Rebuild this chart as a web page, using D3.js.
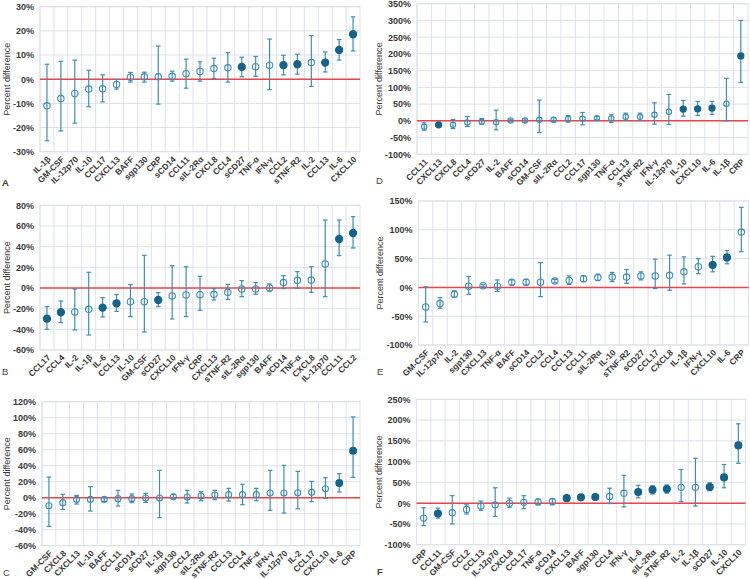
<!DOCTYPE html>
<html>
<head>
<meta charset="utf-8">
<script src="https://cdn.jsdelivr.net/npm/d3@7"></script>
<style>
  body { margin: 0; background: #fff; }
  svg { display: block; }
</style>
</head>
<body>
<svg id="chart" width="750" height="579"></svg>
<script>
// panel A
const catsA = ["IL-1β", "GM-CSF", "IL-12p70", "IL-10", "CCL17", "CXCL13", "BAFF", "sgp130", "CRP", "sCD14", "CCL11", "sIL-2Rα", "CXCL8", "CCL4", "sCD27", "TNF-α", "IFN-γ", "CCL2", "sTNF-R2", "IL-2", "CCL13", "IL-6", "CXCL10"]
const estA = [-11.0, -8.0, -5.9, -4.1, -4.0, -2.2, 0.8, 1.0, 1.0, 1.2, 2.3, 3.2, 4.4, 4.7, 5.1, 5.2, 5.8, 5.8, 6.2, 6.9, 6.9, 12.1, 18.6]
const lowA = [-25.5, -21.4, -18.2, -11.4, -9.4, -4.1, -1.2, -1.2, -10.3, -0.8, -3.7, -0.8, 0.3, -1.2, 1.0, 1.2, -4.3, 1.8, 2.1, -3.0, 3.0, 7.9, 11.7]
const highA = [6.2, 7.4, 7.9, 3.7, 1.8, -0.1, 2.8, 2.9, 13.7, 3.3, 8.3, 7.2, 8.7, 11.0, 9.1, 9.4, 16.6, 9.9, 10.3, 18.1, 11.3, 16.4, 25.8]
const sigA = [0, 0, 0, 0, 0, 0, 0, 0, 0, 0, 0, 0, 0, 0, 1, 0, 0, 1, 1, 0, 1, 1, 1]
const ticksA = [-30, -20, -10, 0, 10, 20, 30]

// panel B
const catsB = ["CCL17", "CCL4", "IL-2", "IL-1β", "IL-6", "CCL13", "IL-10", "GM-CSF", "sCD27", "CXCL10", "IFN-γ", "CRP", "CXCL13", "sTNF-R2", "sIL-2Rα", "sgp130", "BAFF", "sCD14", "TNF-α", "CXCL8", "IL-12p70", "CCL11", "CCL2"]
const estB = [-29.7, -23.5, -23.2, -20.6, -19.0, -14.8, -13.2, -13.2, -11.6, -7.7, -6.8, -6.5, -6.1, -4.2, -1.0, -1.0, 0.0, 5.2, 7.4, 7.7, 23.2, 47.4, 53.2]
const lowB = [-40.0, -33.5, -40.6, -45.5, -28.0, -22.6, -27.7, -42.6, -18.0, -30.0, -27.7, -21.6, -11.6, -11.0, -8.4, -6.1, -2.9, -0.6, -0.3, -4.2, -8.4, 31.3, 38.7]
const highB = [-18.0, -12.6, -1.0, 15.2, -9.4, -6.5, 3.2, 31.6, -4.5, 21.6, 20.6, 11.3, -0.6, 3.5, 7.1, 5.2, 3.9, 11.9, 15.8, 20.6, 65.8, 65.8, 69.0]
const sigB = [1, 1, 0, 0, 1, 1, 0, 0, 1, 0, 0, 0, 0, 0, 0, 0, 0, 0, 0, 0, 0, 1, 1]
const ticksB = [-60, -40, -20, 0, 20, 40, 60, 80]

// panel C
const catsC = ["GM-CSF", "CXCL8", "CXCL13", "IL-10", "BAFF", "CCL11", "sCD14", "sCD27", "IL-1β", "sgp130", "CCL2", "sIL-2Rα", "sTNF-R2", "CCL13", "CCL4", "TNF-α", "IFN-γ", "IL-12p70", "IL-2", "CCL17", "CXCL10", "IL-6", "CRP"]
const estC = [-10.0, -6.2, -2.1, -2.1, -2.1, -1.2, -1.2, -0.4, -0.4, 1.2, 0.8, 2.1, 3.3, 3.8, 3.8, 3.8, 5.8, 5.8, 6.2, 6.7, 11.2, 18.3, 58.8]
const lowC = [-35.8, -14.6, -7.9, -16.7, -4.6, -10.4, -6.2, -5.8, -25.0, -1.7, -6.7, -3.8, -2.5, -4.2, -8.8, -3.8, -15.8, -19.2, -13.8, -5.0, -0.8, 7.1, 25.4]
const highC = [25.8, 4.2, 2.9, 13.8, 0.4, 9.2, 4.6, 5.4, 34.2, 4.2, 9.2, 7.5, 9.2, 11.7, 16.7, 11.7, 34.2, 40.4, 32.9, 20.4, 25.0, 30.0, 101.0]
const sigC = [0, 0, 0, 0, 0, 0, 0, 0, 0, 0, 0, 0, 0, 0, 0, 0, 0, 0, 0, 0, 0, 1, 1]
const ticksC = [-60, -40, -20, 0, 20, 40, 60, 80, 100, 120]

// panel D
const catsD = ["CCL11", "CXCL13", "CXCL8", "CCL4", "sCD27", "IL-2", "BAFF", "sCD14", "GM-CSF", "sIL-2Rα", "CCL2", "CCL17", "sgp130", "TNF-α", "CCL13", "sTNF-R2", "IFN-γ", "IL-12p70", "IL-10", "CXCL10", "IL-6", "IL-1β", "CRP"]
const estD = [-17.9, -11.9, -11.9, -5, -3, -4, 1, 1, 3, 3, 6, 6, 8, 7, 12, 12, 18, 27, 35, 36, 38, 51, 194]
const lowD = [-27.8, -16, -23, -17, -10, -27, -3, -4, -35, -4, -4, -12, 3, -5, 2, 1, -10, -11, 14, 16, 19, 0, 115]
const highD = [-6, -8, 4, 13, 7, 32, 5, 6, 62, 10, 16, 25, 13, 18, 23, 23, 54, 79, 61, 58, 58, 127, 300]
const sigD = [0, 1, 0, 0, 0, 0, 0, 0, 0, 0, 0, 0, 0, 0, 0, 0, 0, 0, 1, 1, 1, 0, 1]
const ticksD = [-100, -50, 0, 50, 100, 150, 200, 250, 300, 350]

// panel E
const catsE = ["GM-CSF", "IL-12p70", "IL-2", "sgp130", "CXCL13", "TNF-α", "BAFF", "sCD14", "CCL2", "CCL4", "CCL13", "CCL11", "sIL-2Rα", "IL-10", "sTNF-R2", "sCD27", "CCL17", "CXCL8", "IL-1β", "IFN-γ", "CXCL10", "IL-6", "CRP"]
const estE = [-34, -28, -12, 2, 3, 2, 9, 9, 9, 11, 12, 15, 17, 18, 18, 20, 20, 21, 27, 36, 39, 52, 96]
const lowE = [-60, -36, -17, -12, 1, -7, 4, 4, -16, 8, 5, 10, 12, 10, 7, 13, -2, -5, 6, 24, 27, 41, 62]
const highE = [1, -18, -6, 19, 5, 13, 13, 14, 43, 14, 20, 20, 23, 26, 31, 27, 49, 56, 53, 50, 54, 64, 139]
const sigE = [0, 0, 0, 0, 0, 0, 0, 0, 0, 0, 0, 0, 0, 0, 0, 0, 0, 0, 0, 0, 1, 1, 0]
const ticksE = [-100, -50, 0, 50, 100, 150]

// panel F
const catsF = ["CRP", "CCL11", "GM-CSF", "CCL2", "CCL13", "IL-12p70", "CXCL8", "CCL17", "TNF-α", "sCD14", "CXCL13", "BAFF", "sgp130", "CCL4", "IFN-γ", "IL-6", "sIL-2Rα", "sTNF-R2", "IL-2", "IL-1β", "sCD27", "IL-10", "CXCL10"]
const estF = [-36, -25, -23, -15, -7, -4, 0, 2, 3, 4, 12, 14, 15, 16, 24, 27, 32, 34, 38, 38, 39, 62, 139]
const lowF = [-54, -36, -50, -26, -17, -32, -10, -13, -4, -4, 8, 10, 11, -1, -9, 13, 22, 24, 4, -7, 30, 37, 96]
const highF = [-11, -12, 18, -4, 5, 37, 12, 18, 10, 11, 16, 18, 19, 36, 67, 43, 42, 44, 81, 108, 49, 93, 191]
const sigF = [0, 1, 0, 0, 0, 0, 0, 0, 0, 0, 1, 1, 1, 0, 0, 1, 1, 1, 0, 0, 1, 1, 1]
const ticksF = [-100, -50, 0, 50, 100, 150, 200, 250]

const grid_color = "#dde1e7"
const bar_color = "#3f8db6"
const dot_color = "#15638b"
const zero_color = "#e8474d"
const font = "'Liberation Sans', Arial, sans-serif"

const svg = d3.select("#chart")

const draw_panel = (svg, p) => {
    const x = d3.scaleBand().domain(p.cats).range([p.left, p.right])
    const y = d3.scaleLinear().domain([p.ticks[0], p.ticks[p.ticks.length - 1]]).range([p.bottom, p.top])
    const g = svg.append("g")

    // horizontal grid
    g.selectAll(".hgrid").data(p.ticks).join("line")
        .attr("x1", p.left).attr("x2", p.right)
        .attr("y1", d => y(d)).attr("y2", d => y(d))
        .style("stroke", grid_color).style("stroke-width", 1)

    // vertical grid at category borders
    g.selectAll(".vgrid").data(p.cats).join("line")
        .attr("x1", d => x(d)).attr("x2", d => x(d))
        .attr("y1", p.top).attr("y2", p.bottom)
        .style("stroke", grid_color).style("stroke-width", 1)

    g.append("rect")
        .attr("x", p.left).attr("y", p.top)
        .attr("width", p.right - p.left).attr("height", p.bottom - p.top)
        .attr("fill", "none").style("stroke", grid_color)

    g.append("line")
        .attr("x1", p.left).attr("x2", p.right)
        .attr("y1", y(0)).attr("y2", y(0))
        .style("stroke", zero_color).style("stroke-width", 1.5)

    // y axis labels
    const ya = g.append("g")
        .attr("transform", `translate(${p.left},0)`)
        .call(d3.axisLeft(y).tickValues(p.ticks).tickFormat(d => d + "%").tickSize(0).tickPadding(6))
    ya.select(".domain").remove()
    ya.selectAll("text")
        .style("font-family", font).style("font-size", "9px")
        .style("font-weight", "bold").attr("fill", "#3a3a3a")

    // x axis labels
    const xa = g.append("g")
        .attr("transform", `translate(0,${p.bottom})`)
        .call(d3.axisBottom(x).tickSize(0))
    xa.select(".domain").remove()
    xa.selectAll("text")
        .attr("x", 0).attr("y", 0).attr("dy", "0.35em")
        .attr("transform", "translate(2,6) rotate(-45)")
        .style("text-anchor", "end")
        .style("font-family", font).style("font-size", "8.5px")
        .style("font-weight", "bold").attr("fill", "#3a3a3a")

    g.append("text")
        .attr("transform", `translate(${p.titleX},${(p.top + p.bottom) / 2}) rotate(-90)`)
        .attr("dy", "0.35em")
        .style("text-anchor", "middle")
        .style("font-family", font).style("font-size", "9px")
        .attr("fill", "#3a3a3a")
        .text("Percent difference")

    const rows = p.cats.map((c, i) => ({ c: c, est: p.est[i], lo: p.low[i], hi: p.high[i], sig: p.sig[i] }))
    const cx = d => x(d.c) + x.bandwidth() / 2
    const cap = 2.3

    g.selectAll(".bar").data(rows).join("line")
        .attr("x1", cx).attr("x2", cx)
        .attr("y1", d => y(d.lo)).attr("y2", d => y(d.hi))
        .style("stroke", bar_color).style("stroke-width", 1.2)
    g.selectAll(".capHi").data(rows).join("line")
        .attr("x1", d => cx(d) - cap).attr("x2", d => cx(d) + cap)
        .attr("y1", d => y(d.hi)).attr("y2", d => y(d.hi))
        .style("stroke", bar_color).style("stroke-width", 1.2)
    g.selectAll(".capLo").data(rows).join("line")
        .attr("x1", d => cx(d) - cap).attr("x2", d => cx(d) + cap)
        .attr("y1", d => y(d.lo)).attr("y2", d => y(d.lo))
        .style("stroke", bar_color).style("stroke-width", 1.2)

    g.selectAll(".dot").data(rows).join("circle")
        .attr("cx", cx).attr("cy", d => y(d.est))
        .attr("r", d => d.sig ? p.r + 0.4 : p.r)
        .attr("fill", d => d.sig ? dot_color : "none")
        .style("stroke", d => d.sig ? dot_color : bar_color)
        .style("stroke-width", 1.1)

    svg.append("text")
        .attr("x", p.letterX).attr("y", p.letterY)
        .style("font-family", font).style("font-size", "9.5px")
        .style("font-weight", p.letterBold ? "bold" : "normal")
        .attr("fill", "#444")
        .text(p.letter)
}

const panels = [
    { letter: "A", cats: catsA, est: estA, low: lowA, high: highA, sig: sigA, ticks: ticksA,
      left: 40, right: 360, top: 6.7, bottom: 151.7, titleX: 7, letterX: 2, letterY: 186, letterBold: true, r: 3.2 },
    { letter: "B", cats: catsB, est: estB, low: lowB, high: highB, sig: sigB, ticks: ticksB,
      left: 40, right: 360, top: 205.3, bottom: 350, titleX: 7, letterX: 2, letterY: 375, letterBold: false, r: 3.2 },
    { letter: "C", cats: catsC, est: estC, low: lowC, high: highC, sig: sigC, ticks: ticksC,
      left: 42, right: 360, top: 401.7, bottom: 545.7, titleX: 7, letterX: 3, letterY: 576, letterBold: false, r: 3 },
    { letter: "D", cats: catsD, est: estD, low: lowD, high: highD, sig: sigD, ticks: ticksD,
      left: 417, right: 748, top: 3.7, bottom: 154.3, titleX: 379, letterX: 376, letterY: 184, letterBold: false, r: 2.7 },
    { letter: "E", cats: catsE, est: estE, low: lowE, high: highE, sig: sigE, ticks: ticksE,
      left: 418.5, right: 748.5, top: 201, bottom: 345, titleX: 380, letterX: 377, letterY: 375, letterBold: false, r: 3.2 },
    { letter: "F", cats: catsF, est: estF, low: lowF, high: highF, sig: sigF, ticks: ticksF,
      left: 416.5, right: 745.5, top: 399.3, bottom: 544.7, titleX: 379, letterX: 377, letterY: 575, letterBold: true, r: 3.1 }
]

panels.forEach(p => draw_panel(svg, p))
</script>
</body>
</html>
